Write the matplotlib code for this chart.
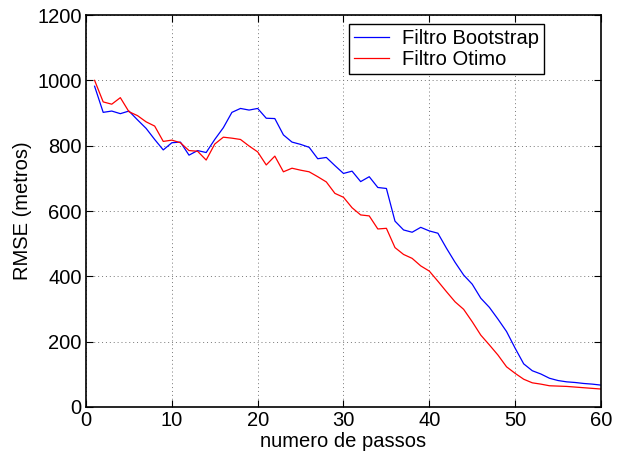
import numpy as np
import matplotlib.pyplot as plt

plt.rcParams['font.family'] = ['Liberation Sans', 'DejaVu Sans']

passos = np.arange(1, 61)

rmse_bootstrap = [
    982, 902, 906, 898, 906, 879, 853, 819, 787, 809,
    811, 771, 785, 779, 819, 855, 902, 914, 909, 914,
    884, 883, 833, 811, 804, 795, 760, 764, 739, 715,
    722, 690, 705, 672, 669, 569, 542, 535, 550, 539,
    532, 486, 443, 404, 376, 333, 305, 269, 231, 180,
    132, 111, 101, 88, 81, 77, 75, 72, 70, 67,
]

rmse_otimo = [
    1000, 934, 927, 947, 904, 892, 873, 860, 813, 817,
    809, 785, 783, 756, 805, 826, 823, 819, 799, 781,
    741, 768, 720, 731, 725, 720, 705, 689, 654, 642,
    610, 588, 585, 545, 547, 488, 467, 455, 432, 416,
    385, 353, 322, 299, 261, 220, 190, 159, 123, 103,
    85, 74, 70, 65, 64, 63, 61, 59, 57, 55,
]

fig = plt.figure(figsize=(6.26, 4.55), dpi=100)
ax = fig.add_axes([0.1374, 0.1055, 0.8226, 0.8615])

ax.plot(passos, rmse_bootstrap, color='#0000ff', lw=0.9, label='Filtro Bootstrap')
ax.plot(passos, rmse_otimo, color='#ff0000', lw=0.9, label='Filtro Otimo')

ax.set_xlim(0, 60)
ax.set_ylim(0, 1200)
ax.set_xticks(range(0, 61, 10))
ax.set_yticks(range(0, 1201, 200))
ax.grid(True, linestyle=(0, (1, 3)), color='#777777', lw=0.7)
ax.tick_params(direction='in', top=True, right=True, length=5, width=0.8,
               labelsize=14.5, pad=3)
for s in ax.spines.values():
    s.set_linewidth(1.2)

ax.set_xlabel('numero de passos', fontsize=14.5, labelpad=1)
ax.set_ylabel('RMSE (metros)', fontsize=14.5, labelpad=4)

leg = ax.legend(loc='upper right', bbox_to_anchor=(0.89, 0.977), fontsize=14.5,
                fancybox=False, framealpha=1, edgecolor='black',
                handlelength=1.75, handletextpad=0.65, borderpad=0.25,
                labelspacing=0.1, borderaxespad=0)
leg.get_frame().set_linewidth(1.0)

fig.savefig('out.png', dpi=100)
